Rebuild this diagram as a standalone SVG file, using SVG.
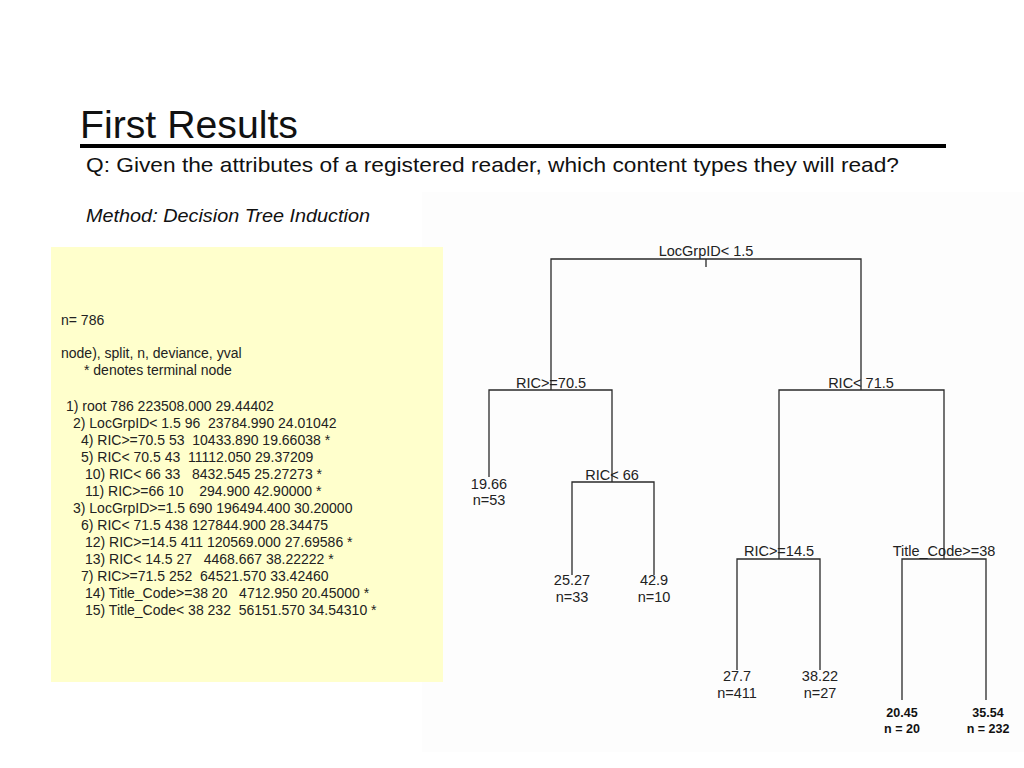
<svg xmlns="http://www.w3.org/2000/svg" width="1024" height="768" viewBox="0 0 1024 768">
<style>
.t{font-family:"Liberation Sans",Arial,sans-serif;fill:#111}
.box{font-family:"Liberation Sans",Arial,sans-serif;font-size:14px;fill:#222;white-space:pre}
.lab{font-family:"Liberation Sans",Arial,sans-serif;font-size:14.5px;fill:#222;text-anchor:middle}
.leafb{font-family:"Liberation Sans",Arial,sans-serif;font-size:12.5px;font-weight:bold;fill:#111;text-anchor:middle}
.e{stroke:#2a2a2a;stroke-width:1.3;fill:none}
</style>
<rect width="1024" height="768" fill="#ffffff"/>
<g id="header">
<text class="t" x="80" y="138" font-size="39" textLength="218" lengthAdjust="spacingAndGlyphs">First Results</text>
<rect x="80" y="144" width="866" height="4" fill="#000"/>
<text class="t" x="86" y="172" font-size="21" textLength="813" lengthAdjust="spacingAndGlyphs">Q: Given the attributes of a registered reader, which content types they will read?</text>
<text class="t" x="86" y="222" font-size="19" font-style="italic" textLength="284" lengthAdjust="spacingAndGlyphs">Method: Decision Tree Induction</text>
</g>
<rect id="tree-bg" x="422" y="192" width="602" height="560" fill="#fdfdfd"/>
<g id="summary">
<rect x="51" y="247" width="392" height="435" fill="#ffffcc"/>
<text class="box" x="61" y="325">n= 786</text>
<text class="box" x="61" y="358">node), split, n, deviance, yval</text>
<text class="box" x="84" y="375">* denotes terminal node</text>
<text class="box" x="66" y="411">1) root 786 223508.000 29.44402</text>
<text class="box" x="73" y="428">2) LocGrpID&lt; 1.5 96  23784.990 24.01042</text>
<text class="box" x="81" y="445">4) RIC&gt;=70.5 53  10433.890 19.66038 *</text>
<text class="box" x="81" y="462">5) RIC&lt; 70.5 43  11112.050 29.37209</text>
<text class="box" x="85" y="479">10) RIC&lt; 66 33   8432.545 25.27273 *</text>
<text class="box" x="85" y="496">11) RIC&gt;=66 10    294.900 42.90000 *</text>
<text class="box" x="73" y="513">3) LocGrpID&gt;=1.5 690 196494.400 30.20000</text>
<text class="box" x="81" y="530">6) RIC&lt; 71.5 438 127844.900 28.34475</text>
<text class="box" x="85" y="547">12) RIC&gt;=14.5 411 120569.000 27.69586 *</text>
<text class="box" x="85" y="564">13) RIC&lt; 14.5 27   4468.667 38.22222 *</text>
<text class="box" x="81" y="581">7) RIC&gt;=71.5 252  64521.570 33.42460</text>
<text class="box" x="85" y="598">14) Title_Code&gt;=38 20   4712.950 20.45000 *</text>
<text class="box" x="85" y="615">15) Title_Code&lt; 38 232  56151.570 34.54310 *</text>
</g>
<g id="connectors">
<path class="e" d="M706 259V267M551 390V259H861V390"/>
<path class="e" d="M489 477V390H612V482M612 482H572V575M572 482H654V575"/>
<path class="e" d="M779 559V390H944V559M737 670V559H820V670M902 700V559H986V700"/>
</g>
<g id="n1"><text class="lab" x="706" y="256">LocGrpID&lt; 1.5</text></g>
<g id="n2"><text class="lab" x="551" y="388">RIC&gt;=70.5</text></g>
<g id="n3"><text class="lab" x="861" y="388">RIC&lt; 71.5</text></g>
<g id="n4"><text class="lab" x="489" y="489">19.66</text><text class="lab" x="489" y="505">n=53</text></g>
<g id="n5"><text class="lab" x="612" y="480">RIC&lt; 66</text></g>
<g id="n10"><text class="lab" x="572" y="585">25.27</text><text class="lab" x="572" y="602">n=33</text></g>
<g id="n11"><text class="lab" x="654" y="585">42.9</text><text class="lab" x="654" y="602">n=10</text></g>
<g id="n6"><text class="lab" x="779" y="556">RIC&gt;=14.5</text></g>
<g id="n7"><text class="lab" x="944" y="556">Title_Code&gt;=38</text></g>
<g id="n12"><text class="lab" x="737" y="681">27.7</text><text class="lab" x="737" y="698">n=411</text></g>
<g id="n13"><text class="lab" x="820" y="681">38.22</text><text class="lab" x="820" y="698">n=27</text></g>
<g id="n14"><text class="leafb" x="902" y="717">20.45</text><text class="leafb" x="902" y="733">n = 20</text></g>
<g id="n15"><text class="leafb" x="988" y="717">35.54</text><text class="leafb" x="988" y="733">n = 232</text></g>
</svg>
